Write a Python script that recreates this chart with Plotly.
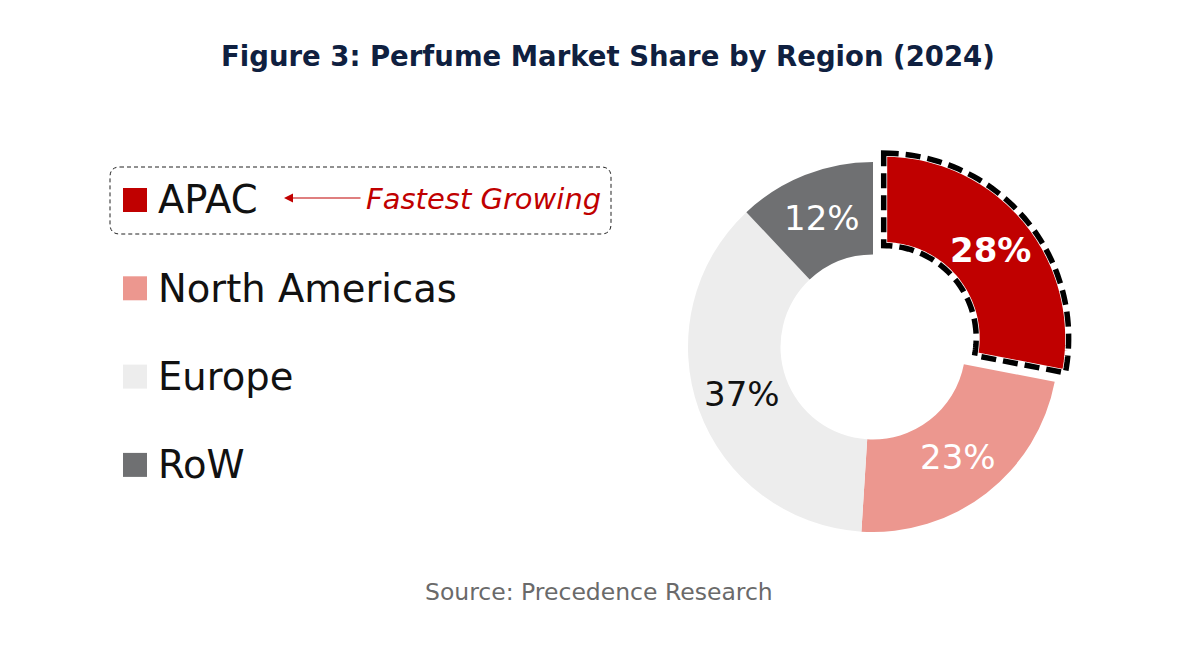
import numpy as np
import plotly.graph_objects as go

# Datos del gráfico
regiones = ["APAC", "North Americas", "Europe", "RoW"]
cuotas = [28, 23, 37, 12]
colores = ["#C00000", "#EC978F", "#EDEDED", "#6F7072"]
color_texto = ["white", "white", "#111111", "white"]
tirones = [0.075, 0, 0, 0]

titulo = "Figure 3: Perfume Market Share by Region (2024)"
fuente = "Source: Precedence Research"
nota = "Fastest Growing"

W, H = 1200, 661
OFF = 8  # margen del body de la página
FONT = "DejaVu Sans"


def px(x):
    return (x - OFF) / W


def py(y):
    return 1 - (y - OFF) / H


# zona del donut (centro y radio en pixeles)
max_pull = max(tirones)
cx, cy, radio = 873, 347, 185
semi = radio * (1 + max_pull)
dx0, dx1, dy0, dy1 = cx - semi, cx + semi, cy - semi, cy + semi
agujero = 0.5
rango = [-(1 + max_pull), 1 + max_pull]

fig = go.Figure()

fig.add_trace(go.Pie(
    labels=regiones,
    values=cuotas,
    sort=False,
    direction="clockwise",
    rotation=0,
    hole=agujero,
    pull=tirones,
    marker=dict(colors=colores, line=dict(width=0)),
    textinfo="none",
    hoverinfo="label+percent",
    showlegend=False,
    domain=dict(x=[px(dx0), px(dx1)], y=[py(dy1), py(dy0)]),
))

# eje auxiliar para colocar contorno y etiquetas en las mismas unidades del donut
fig.add_trace(go.Scatter(x=[0], y=[0], mode="markers", marker=dict(opacity=0),
                         hoverinfo="skip", showlegend=False))
fig.update_xaxes(domain=[px(dx0), px(dx1)], range=rango, visible=False, fixedrange=True)
fig.update_yaxes(domain=[py(dy1), py(dy0)], range=rango, visible=False, fixedrange=True)

shapes = []
annotations = []

# Contorno discontinuo del sector APAC (calculado a partir de los datos)
total = sum(cuotas)
a0 = 0.0
a1 = 2 * np.pi * cuotas[0] / total
mid = (a0 + a1) / 2
ox, oy = tirones[0] * np.sin(mid), tirones[0] * np.cos(mid)
t_ext = np.linspace(a0, a1, 60)
t_int = t_ext[::-1]
xs = np.concatenate([np.sin(t_ext), agujero * np.sin(t_int)]) + ox
ys = np.concatenate([np.cos(t_ext), agujero * np.cos(t_int)]) + oy
ruta_sector = "M " + " L ".join(f"{x:.4f},{y:.4f}" for x, y in zip(xs, ys)) + " Z"
shapes.append(dict(type="path", xref="x", yref="y", path=ruta_sector, layer="above",
                   line=dict(color="white", width=7)))
shapes.append(dict(type="path", xref="x", yref="y", path=ruta_sector, layer="above",
                   line=dict(color="black", width=5.5, dash="15px,7px")))

# Etiquetas de porcentaje en el anillo
acum = np.cumsum([0] + cuotas[:-1])
r_txt = (1 + agujero) / 2
for i, (c, a) in enumerate(zip(cuotas, acum)):
    ang = 2 * np.pi * (a + c / 2) / total
    tx = (r_txt + tirones[i]) * np.sin(ang)
    ty = (r_txt + tirones[i]) * np.cos(ang)
    txt = f"<b>{c}%</b>" if i == 0 else f"{c}%"
    annotations.append(dict(x=tx, y=ty, xref="x", yref="y", text=txt, showarrow=False,
                            font=dict(family=FONT, size=34, color=color_texto[i])))

# Leyenda hecha a mano
y_leyenda = 200
paso = 88.3
for i, reg in enumerate(regiones):
    yc = y_leyenda + i * paso
    shapes.append(dict(type="rect", xref="paper", yref="paper",
                       x0=px(123), x1=px(147), y0=py(yc + 12), y1=py(yc - 12),
                       fillcolor=colores[i], line=dict(width=0)))
    annotations.append(dict(x=px(156), y=py(yc), xref="paper", yref="paper",
                            text=reg, showarrow=False, xanchor="left", yanchor="middle",
                            font=dict(family=FONT, size=38.5, color="#111111")))

# Caja discontinua redondeada alrededor de APAC
bx0, bx1, by0, by1, rr = 110, 611, 167, 234, 10
rx, ry = rr / W, rr / H
ruta = (f"M {px(bx0)+rx},{py(by0)} L {px(bx1)-rx},{py(by0)} "
        f"Q {px(bx1)},{py(by0)} {px(bx1)},{py(by0)-ry} "
        f"L {px(bx1)},{py(by1)+ry} Q {px(bx1)},{py(by1)} {px(bx1)-rx},{py(by1)} "
        f"L {px(bx0)+rx},{py(by1)} Q {px(bx0)},{py(by1)} {px(bx0)},{py(by1)+ry} "
        f"L {px(bx0)},{py(by0)-ry} Q {px(bx0)},{py(by0)} {px(bx0)+rx},{py(by0)} Z")
shapes.append(dict(type="path", xref="paper", yref="paper", path=ruta,
                   line=dict(color="#222222", width=1, dash="4px,3px")))

# Flecha y nota
annotations.append(dict(x=px(284), y=py(198), xref="paper", yref="paper",
                        ax=78, ay=0, axref="pixel", ayref="pixel",
                        text="", showarrow=True, arrowhead=2, arrowsize=1.5,
                        arrowwidth=1.2, arrowcolor="#C00000"))
annotations.append(dict(x=px(364), y=py(199), xref="paper", yref="paper",
                        text=f"<i>{nota}</i>", showarrow=False, xanchor="left",
                        yanchor="middle", font=dict(family=FONT, size=29, color="#C00000")))

# Título y fuente
annotations.append(dict(x=px(608), y=py(56), xref="paper", yref="paper",
                        text=f"<b>{titulo}</b>", showarrow=False, xanchor="center",
                        yanchor="middle", font=dict(family=FONT, size=27.5, color="#0F2040")))
annotations.append(dict(x=px(599), y=py(592), xref="paper", yref="paper",
                        text=fuente, showarrow=False, xanchor="center", yanchor="middle",
                        font=dict(family=FONT, size=23.5, color="#6A6A6A")))

fig.update_layout(
    width=W, height=H,
    margin=dict(l=0, r=0, t=0, b=0),
    paper_bgcolor="white", plot_bgcolor="rgba(0,0,0,0)",
    shapes=shapes, annotations=annotations,
    font=dict(family=FONT),
)

fig.write_html("out.html")
